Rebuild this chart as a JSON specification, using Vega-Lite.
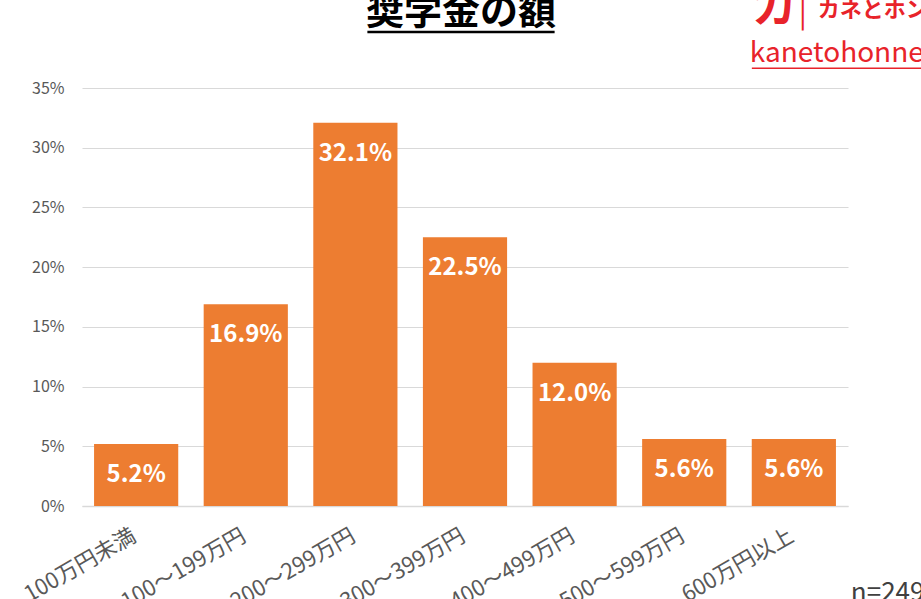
{
  "$schema": "https://vega.github.io/schema/vega-lite/v6.json",
  "width": 766,
  "height": 418,
  "autosize": {"type": "none"},
  "padding": {"left": 82, "top": 88, "right": 73, "bottom": 93},
  "background": "white",
  "config": {
    "font": "Noto Sans CJK JP",
    "view": {"stroke": null},
    "axis": {"labelFont": "Noto Sans CJK JP"}
  },
  "datasets": {
    "bars": [
      {"category": "100万円未満", "share": 0.052},
      {"category": "100～199万円", "share": 0.169},
      {"category": "200～299万円", "share": 0.321},
      {"category": "300～399万円", "share": 0.225},
      {"category": "400～499万円", "share": 0.120},
      {"category": "500～599万円", "share": 0.056},
      {"category": "600万円以上", "share": 0.056}
    ]
  },
  "data": {"name": "bars"},
  "layer": [
    {
      "mark": {"type": "bar", "color": "#ED7D31"},
      "encoding": {
        "x": {
          "field": "category",
          "type": "nominal",
          "sort": ["100万円未満", "100～199万円", "200～299万円", "300～399万円", "400～499万円", "500～599万円", "600万円以上"],
          "scale": {"paddingInner": 0.232, "paddingOuter": 0.11},
          "axis": {
            "title": null,
            "labelAngle": -30,
            "labelFontSize": 22,
            "labelColor": "#595959",
            "labelPadding": 19,
            "labelOffset": -7,
            "ticks": false,
            "domain": true,
            "domainColor": "#d9d9d9",
            "domainWidth": 1.5,
            "labelOverlap": false
          }
        },
        "y": {
          "field": "share",
          "type": "quantitative",
          "scale": {"domain": [0, 0.35], "nice": false},
          "axis": {
            "title": null,
            "values": [0, 0.05, 0.1, 0.15, 0.2, 0.25, 0.3, 0.35],
            "format": ".0%",
            "labelFontSize": 16,
            "labelColor": "#595959",
            "labelPadding": 18,
            "ticks": false,
            "domain": false,
            "gridColor": "#d9d9d9",
            "gridWidth": 1
          }
        }
      }
    },
    {
      "mark": {"type": "text", "color": "white", "fontSize": 24, "fontWeight": "bold", "baseline": "top", "dy": 19},
      "encoding": {
        "x": {"field": "category", "type": "nominal", "sort": ["100万円未満", "100～199万円", "200～299万円", "300～399万円", "400～499万円", "500～599万円", "600万円以上"]},
        "y": {"field": "share", "type": "quantitative", "scale": {"domain": [0, 0.35], "nice": false}},
        "text": {"field": "share", "type": "quantitative", "format": ".1%"}
      }
    },
    {
      "data": {"values": [{"label": "奨学金の額", "anchor": "300～399万円", "level": 0.4036}]},
      "mark": {"type": "text", "color": "#000000", "fontSize": 38, "fontWeight": "bold", "align": "center", "baseline": "alphabetic", "dx": -4},
      "encoding": {
        "x": {"field": "anchor", "type": "nominal", "title": null},
        "y": {"field": "level", "type": "quantitative", "title": null, "scale": {"domain": [0, 0.35], "nice": false}},
        "text": {"field": "label"}
      }
    },
    {
      "data": {"values": [{"from": "200～299万円", "to": "400～499万円", "level": 0.3969}]},
      "mark": {"type": "rule", "color": "#000000", "strokeWidth": 2.5, "xOffset": 12, "x2Offset": -20},
      "encoding": {
        "x": {"field": "from", "type": "nominal", "title": null},
        "x2": {"field": "to"},
        "y": {"field": "level", "type": "quantitative", "title": null, "scale": {"domain": [0, 0.35], "nice": false}}
      }
    },
    {
      "data": {"values": [{"label": "カ", "anchor": "600万円以上", "level": 0.4044}]},
      "mark": {"type": "text", "color": "#e8232a", "fontSize": 45, "fontWeight": "bold", "align": "left", "baseline": "alphabetic", "dx": -42},
      "encoding": {
        "x": {"field": "anchor", "type": "nominal", "title": null},
        "y": {"field": "level", "type": "quantitative", "title": null, "scale": {"domain": [0, 0.35], "nice": false}},
        "text": {"field": "label"}
      }
    },
    {
      "data": {"values": [{"label": "|", "anchor": "600万円以上", "level": 0.405}]},
      "mark": {"type": "text", "color": "#e8232a", "fontSize": 30, "fontWeight": "normal", "align": "center", "baseline": "alphabetic", "dx": 9},
      "encoding": {
        "x": {"field": "anchor", "type": "nominal", "title": null},
        "y": {"field": "level", "type": "quantitative", "title": null, "scale": {"domain": [0, 0.35], "nice": false}},
        "text": {"field": "label"}
      }
    },
    {
      "data": {"values": [{"label": "カネとホンネ", "anchor": "600万円以上", "level": 0.4094}]},
      "mark": {"type": "text", "color": "#e8232a", "fontSize": 22, "fontWeight": "bold", "align": "left", "baseline": "alphabetic", "dx": 24},
      "encoding": {
        "x": {"field": "anchor", "type": "nominal", "title": null},
        "y": {"field": "level", "type": "quantitative", "title": null, "scale": {"domain": [0, 0.35], "nice": false}},
        "text": {"field": "label"}
      }
    },
    {
      "data": {"values": [{"label": "kanetohonne.com", "anchor": "600万円以上", "level": 0.3718}]},
      "mark": {"type": "text", "color": "#e8232a", "fontSize": 28, "fontWeight": "normal", "align": "left", "baseline": "alphabetic", "dx": -44},
      "encoding": {
        "x": {"field": "anchor", "type": "nominal", "title": null},
        "y": {"field": "level", "type": "quantitative", "title": null, "scale": {"domain": [0, 0.35], "nice": false}},
        "text": {"field": "label"}
      }
    },
    {
      "data": {"values": [{"from": "600万円以上", "to": "600万円以上", "level": 0.3665}]},
      "mark": {"type": "rule", "color": "#e8232a", "strokeWidth": 1.5, "xOffset": -42, "x2Offset": 200},
      "encoding": {
        "x": {"field": "from", "type": "nominal", "title": null},
        "x2": {"field": "to"},
        "y": {"field": "level", "type": "quantitative", "title": null, "scale": {"domain": [0, 0.35], "nice": false}}
      }
    },
    {
      "data": {"values": [{"label": "n=249", "anchor": "600万円以上", "level": -0.0795}]},
      "mark": {"type": "text", "color": "#404040", "fontSize": 26, "fontWeight": "normal", "align": "left", "baseline": "alphabetic", "dx": 57},
      "encoding": {
        "x": {"field": "anchor", "type": "nominal", "title": null},
        "y": {"field": "level", "type": "quantitative", "title": null, "scale": {"domain": [0, 0.35], "nice": false}},
        "text": {"field": "label"}
      }
    }
  ]
}
